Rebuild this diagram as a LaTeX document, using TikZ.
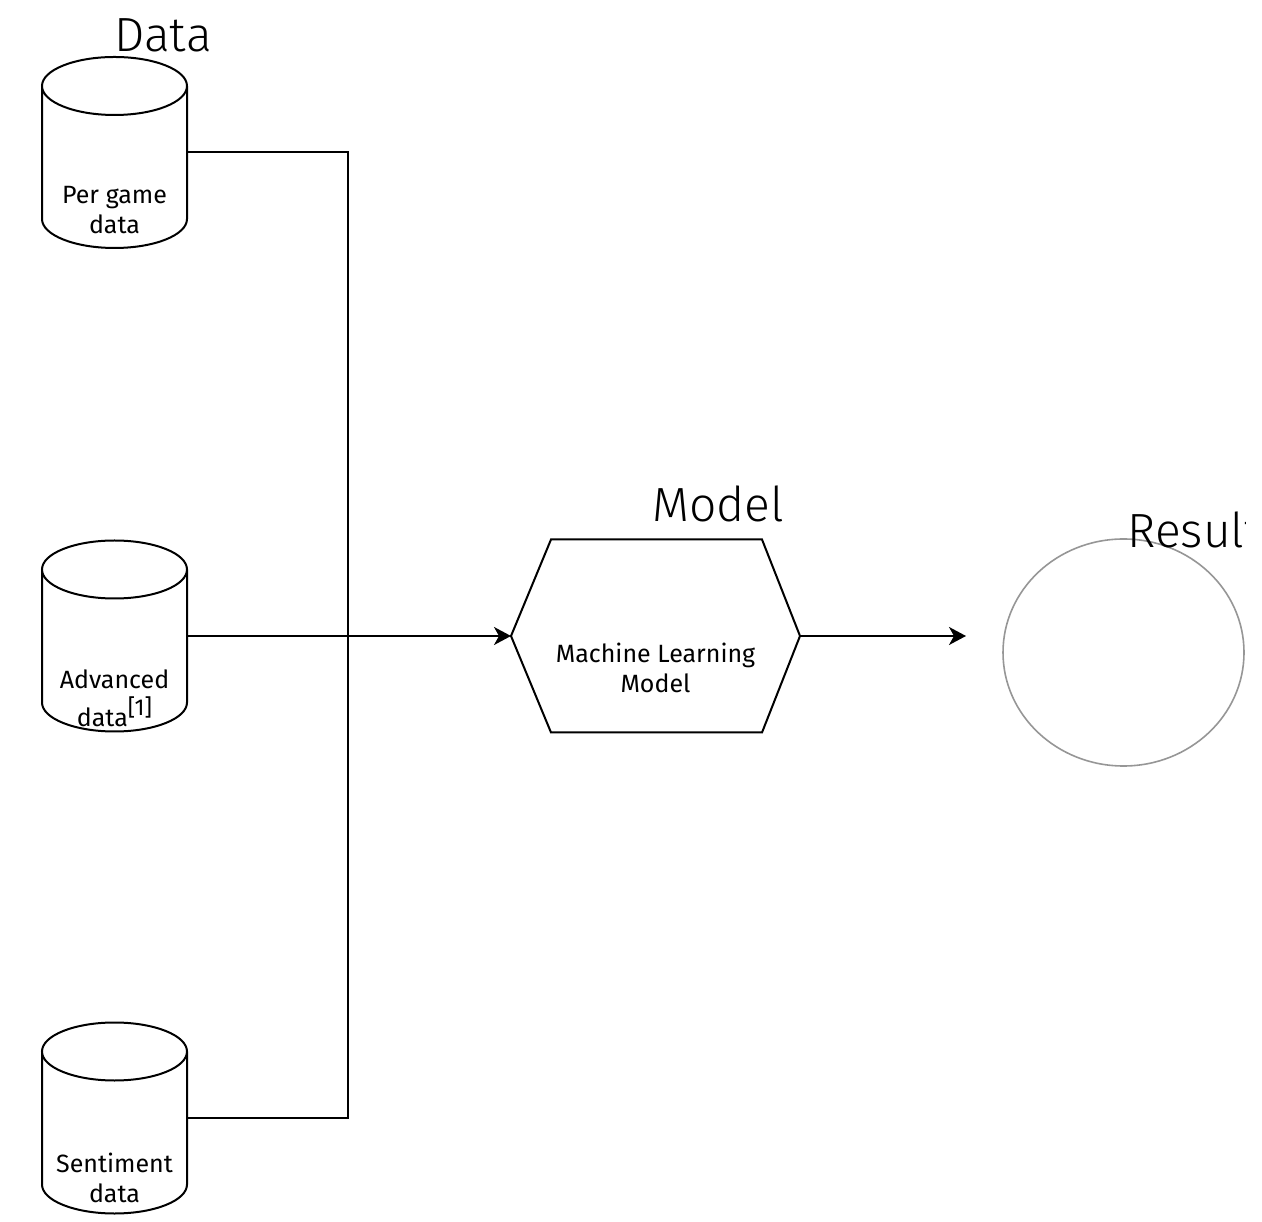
\documentclass[tikz,border=0pt]{standalone}
\usepackage{fontspec}
\setmainfont{Fira Sans Light}
\newfontfamily\bookfont{Fira Sans}
\usepackage{xcolor}
\usepackage{tikz}
\usetikzlibrary{shapes.geometric,arrows.meta}
\definecolor{resultgray}{RGB}{150,150,150}

\tikzset{
  dbbox/.style={rectangle, minimum width=72.5pt, minimum height=95.5pt, inner sep=0pt, outer sep=0pt},
  mlbox/.style={rectangle, minimum width=144.5pt, minimum height=96.5pt, inner sep=0pt, outer sep=0pt},
  dbtext/.style={align=center, font=\bookfont\fontsize{12.5}{15}\selectfont, inner sep=0pt},
  heading/.style={font=\fontsize{24}{28}\selectfont, inner sep=0pt},
  wire/.style={line width=1pt},
  flow/.style={wire, -{Stealth[length=8.5pt,width=9pt,inset=2.5pt]}},
  resultring/.style={ellipse, draw=resultgray, line width=0.8pt, minimum width=120.5pt, minimum height=113.5pt, inner sep=0pt}
}

% outline of a database drum round a dbbox node
\newcommand{\drum}[1]{%
  \draw[wire] ([yshift=-14.5pt]#1.north west) -- ([yshift=14.5pt]#1.south west)
    arc[start angle=180, end angle=360, x radius=36.25pt, y radius=14.5pt]
    -- ([yshift=-14.5pt]#1.north east)
    arc[start angle=0, end angle=360, x radius=36.25pt, y radius=14.5pt];}

\begin{document}
\begin{tikzpicture}[x=0.5pt, y=0.5pt]
        \useasboundingbox (0,0) rectangle (1262,1221);
        % data sources
        \node (pergame) at (114.5, 1068.5) [dbbox] {};
        \node (advanced) at (114.5, 585) [dbbox] {};
        \node (sentiment) at (114.5, 103) [dbbox] {};
        \drum{pergame}
        \drum{advanced}
        \drum{sentiment}
        \node (pergametext) at (114.5, 1011) [dbtext] {Per game\\data};
        \node (advancedtext) at (114.5, 523) [dbtext] {Advanced\\[4pt]data\raisebox{0.42em}{\fontsize{11.5}{12}\selectfont[1]}};
        \node (sentimenttext) at (114.5, 43) [dbtext] {Sentiment\\data};
        \node (datalabel) at (163, 1169) [heading, anchor=base] {Data};

        % model
        \node (ml) at (655.5, 585) [mlbox] {};
        \draw [wire] (ml.west) -- ([xshift=20pt]ml.north west) -- ([xshift=-19pt]ml.north east)
            -- (ml.east) -- ([xshift=-19pt]ml.south east) -- ([xshift=20pt]ml.south west) -- cycle;
        \node (mltext) at (655.5, 553) [dbtext] {Machine Learning\\Model};
        \node (modellabel) at (718, 699) [heading, anchor=base] {Model};

        % result
        \node (result) at (1123.5, 568.5) [resultring] {};
        \begin{scope}
            \clip (0,0) rectangle (1245,1221);
            \node (resultlabel) at (1127, 673) [heading, anchor=base west] {Result};
        \end{scope}

        % connectors
        \coordinate (bus) at (348, 585);
        \coordinate (resultin) at (966, 585);
        \draw [wire] (pergame.east) -| (bus) |- (sentiment.east);
        \draw [flow] (advanced.east) -- (ml.west);
        \draw [flow] (ml.east) -- (resultin);
    \end{tikzpicture}
\end{document}
